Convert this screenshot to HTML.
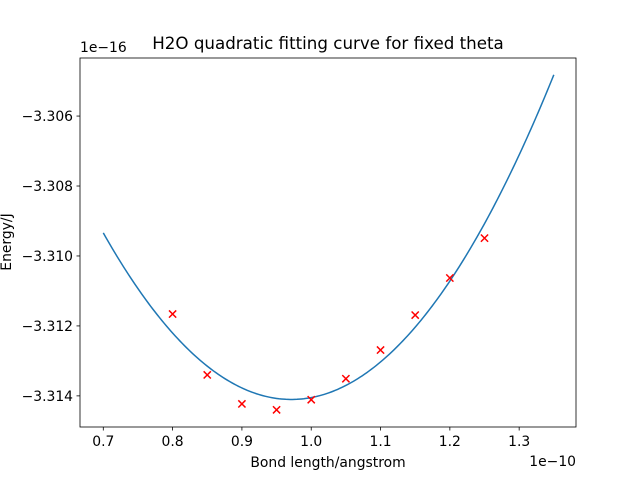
<!DOCTYPE html>
<html><head><meta charset="utf-8"><style>
body{margin:0;background:#fff}
svg{display:block;font-family:"DejaVu Sans","Liberation Sans",sans-serif}
</style></head><body>
<svg id="c" width="640" height="480"></svg>
<script>
const xData=[0.80,0.85,0.90,0.95,1.00,1.05,1.10,1.15,1.20,1.25];
const yData=[-3.31166,-3.3134,-3.31423,-3.3144,-3.31411,-3.31351,-3.31269,-3.31169,-3.31063,-3.30949];
const xTicks=[0.7,0.8,0.9,1.0,1.1,1.2,1.3];
const yTicks=[-3.306,-3.308,-3.310,-3.312,-3.314];
const curveRange=[0.70,1.35];
const L=80,R=576,T=58,B=427,xmin=0.6664,xmax=1.382,ymin=-3.31489,ymax=-3.30434;
const sx=v=>L+(v-xmin)/(xmax-xmin)*(R-L);
const sy=v=>B-(v-ymin)/(ymax-ymin)*(B-T);
const NS="http://www.w3.org/2000/svg",svg=document.getElementById('c');
function mk(t,a,p){const e=document.createElementNS(NS,t);for(const k in a)e.setAttribute(k,a[k]);(p||svg).appendChild(e);return e;}
let S=[0,0,0,0,0],Ty=[0,0,0];const x0=1,ym=-3.312;
xData.forEach((x,i)=>{const u=x-x0,y=yData[i]-ym;for(let k=0;k<5;k++)S[k]+=u**k;for(let k=0;k<3;k++)Ty[k]+=y*u**k;});
const M=[[S[0],S[1],S[2],Ty[0]],[S[1],S[2],S[3],Ty[1]],[S[2],S[3],S[4],Ty[2]]];
for(let i=0;i<3;i++){for(let j=i+1;j<3;j++){const f=M[j][i]/M[i][i];for(let k=i;k<4;k++)M[j][k]-=f*M[i][k];}}
const c=[0,0,0];for(let i=2;i>=0;i--){let s=M[i][3];for(let k=i+1;k<3;k++)s-=M[i][k]*c[k];c[i]=s/M[i][i];}
const f=x=>{const u=x-x0;return ym+c[0]+c[1]*u+c[2]*u*u;};
let d="";for(let i=0;i<=200;i++){const x=curveRange[0]+(curveRange[1]-curveRange[0])*i/200;d+=(i?"L":"M")+sx(x).toFixed(2)+","+sy(f(x)).toFixed(2);}
const line=mk('path',{d:d,fill:'none',stroke:'#1f77b4','stroke-width':1.5});


xData.forEach((x,i)=>{const px=sx(x),py=sy(yData[i]),r=3.6;
const g=mk('path',{d:`M${px-r},${py-r}L${px+r},${py+r}M${px-r},${py+r}L${px+r},${py-r}`,stroke:'#ff0000','stroke-width':1.5});

});
const fr=mk('rect',{x:L,y:T,width:R-L,height:B-T,fill:'none',stroke:'#000','stroke-width':0.8});


xTicks.forEach(v=>{const x=sx(v);mk('line',{x1:x,x2:x,y1:B,y2:B+3.5,stroke:'#000','stroke-width':0.8});
const t=mk('text',{x:x,y:B+19,'text-anchor':'middle','font-size':13.9});t.textContent=v.toFixed(1);

});
yTicks.forEach(v=>{const y=sy(v);mk('line',{x1:L,x2:L-3.5,y1:y,y2:y,stroke:'#000','stroke-width':0.8});
const t=mk('text',{x:L-7,y:y+5,'text-anchor':'end','font-size':13.9});t.textContent="\u2212"+Math.abs(v).toFixed(3);

});
function txt(s,a,n){const t=mk('text',a);t.textContent=s;return t;}
txt("H2O quadratic fitting curve for fixed theta",{x:328,y:49,'text-anchor':'middle','font-size':16.7},'chart-title');
txt("Bond length/angstrom",{x:328,y:467,'text-anchor':'middle','font-size':13.9},'x-axis-title');
txt("Energy/J",{x:0,y:0,'text-anchor':'middle','font-size':13.9,transform:'translate(11,242) rotate(-90)'},'y-axis-title');
txt("1e\u221216",{x:80,y:52,'font-size':13.9},'y-offset-label');
txt("1e\u221210",{x:576,y:466,'text-anchor':'end','font-size':13.9},'x-offset-label');
</script>
</body></html>
